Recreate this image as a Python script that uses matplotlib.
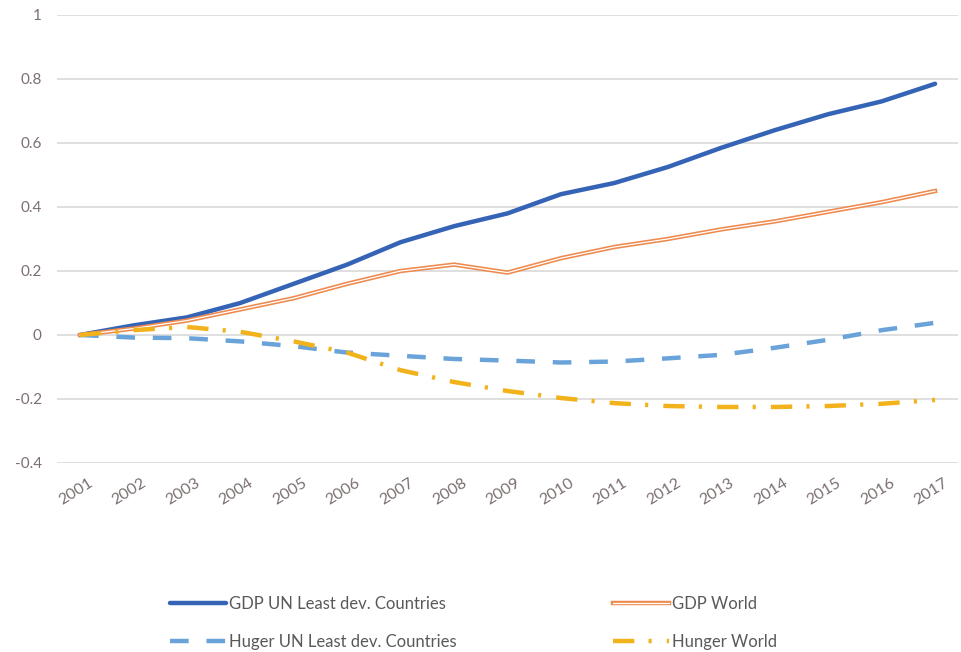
import matplotlib.pyplot as plt
import matplotlib.patheffects as pe
from matplotlib.transforms import ScaledTranslation

# ================================
# Datos
# ================================
years = list(range(2001, 2018))

gdp_ldc = [0, 0.03, 0.055, 0.10, 0.16, 0.22, 0.29, 0.34, 0.38, 0.44,
           0.475, 0.525, 0.585, 0.64, 0.69, 0.73, 0.785]
gdp_world = [0, 0.02, 0.045, 0.08, 0.115, 0.16, 0.20, 0.22, 0.195, 0.24,
             0.275, 0.30, 0.33, 0.355, 0.385, 0.415, 0.45]
hunger_ldc = [0, -0.008, -0.01, -0.02, -0.035, -0.055, -0.065, -0.075, -0.08, -0.086,
              -0.083, -0.073, -0.062, -0.04, -0.015, 0.015, 0.038]
hunger_world = [0, 0.015, 0.025, 0.01, -0.02, -0.055, -0.11, -0.147, -0.175, -0.197,
                -0.213, -0.222, -0.225, -0.225, -0.222, -0.215, -0.203]

ytick_vals = [-0.4, -0.2, 0, 0.2, 0.4, 0.6, 0.8, 1]
ytick_labels = ["-0.4", "-0.2", "0", "0.2", "0.4", "0.6", "0.8", "1"]

plt.rcParams['font.family'] = ['Lato', 'DejaVu Sans']

fig = plt.figure(figsize=(9.61, 6.52), dpi=100)
ax = fig.add_axes([0.0593, 0.2899, 0.9376, 0.6871])

# ================================
# Lineas
# ================================
l1, = ax.plot(years, gdp_ldc, color="#3563B5", lw=3.2,
              solid_capstyle="round", label="GDP UN Least dev. Countries")
l2, = ax.plot(years, gdp_world, color="white", lw=0.9,
              path_effects=[pe.Stroke(linewidth=3.2, foreground="#EE8A4E"), pe.Normal()],
              label="GDP World")
l3, = ax.plot(years, hunger_ldc, color="#6AA3DA", lw=3.2,
              dashes=(4.2, 4.0), label="Huger UN Least dev. Countries")
l4, = ax.plot(years, hunger_world, color="#F2B21C", lw=3.2,
              dashes=(4.8, 3.2, 0.7, 3.4), label="Hunger World")

# ================================
# Ejes
# ================================
ax.set_xlim(2000.57, 2017.43)
ax.set_ylim(-0.4, 1)
ax.set_yticks(ytick_vals)
ax.set_yticklabels(ytick_labels)
ax.set_xticks(years)
ax.set_xticklabels([str(y) for y in years], rotation=32, ha="right",
                   rotation_mode="anchor")

ax.tick_params(axis="y", length=0, pad=11, labelsize=11, labelcolor="#7B6F6F")
ax.tick_params(axis="x", length=0, pad=9, labelsize=11.5, labelcolor="#7B6F6F")
# correr un poco las etiquetas a la derecha
shift = ScaledTranslation(8 / 100, 0, fig.dpi_scale_trans)
for lbl in ax.get_xticklabels():
    lbl.set_transform(lbl.get_transform() + shift)

ax.grid(axis="y", color="#D6D6D6", lw=1.1)
ax.set_axisbelow(True)
for s in ax.spines.values():
    s.set_visible(False)

# ================================
# Leyenda (dos columnas)
# ================================
leg_kw = dict(frameon=False, fontsize=12, handlelength=3.4, handletextpad=0.15,
              labelspacing=1.35, labelcolor="#595959", borderaxespad=0)
leg1 = fig.legend(handles=[l1, l3], loc="upper left",
                  bbox_to_anchor=(163 / 961, 1 - 589 / 652), **leg_kw)
leg2 = fig.legend(handles=[l2, l4], loc="upper left",
                  bbox_to_anchor=(606 / 961, 1 - 589 / 652), **leg_kw)

plt.savefig("out.png", dpi=100)
